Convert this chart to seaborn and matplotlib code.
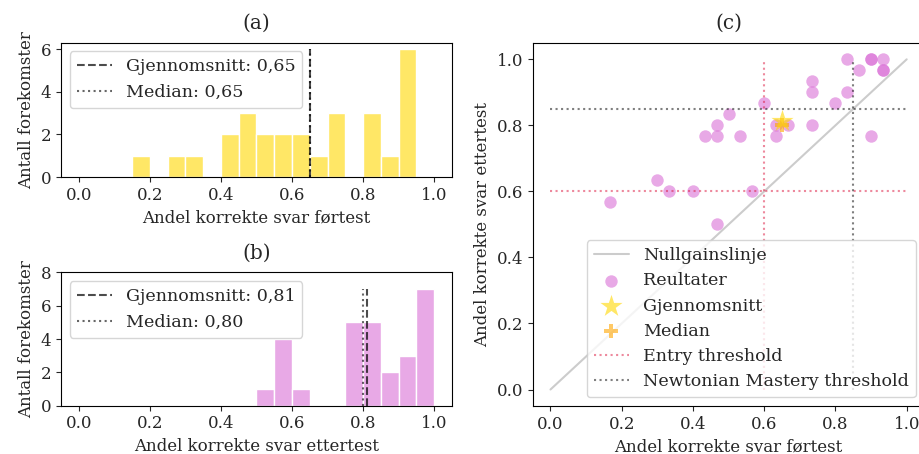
import numpy as np
import pandas as pd
import matplotlib
matplotlib.use("Agg")
import matplotlib.pyplot as plt
import seaborn as sns

# Scores per student (number of correct answers out of 30)
n_questions = 30
pre_correct = [25, 27, 27, 28, 26, 28, 28, 22, 22, 25, 24, 18, 15, 14,
               19, 20, 22, 13, 14, 16, 19, 27, 9, 10, 12, 17, 5, 14]
post_correct = [30, 30, 30, 30, 29, 29, 29, 28, 27, 27, 26, 26, 25, 24,
                24, 24, 24, 23, 23, 23, 23, 23, 19, 18, 18, 18, 17, 15]

entry_threshold = 0.60
mastery_threshold = 0.85
xticks = [0.0, 0.2, 0.4, 0.6, 0.8, 1.0]

sns.set_style("ticks")
plt.rcParams["font.family"] = ["DejaVu Serif"]
plt.rcParams["font.size"] = 12
plt.rcParams["legend.fontsize"] = 12.6
plt.rcParams["xtick.direction"] = "out"
plt.rcParams["ytick.direction"] = "out"
plt.rcParams["xtick.major.size"] = 3.5
plt.rcParams["ytick.major.size"] = 3.5
plt.rcParams["axes.edgecolor"] = "black"
plt.rcParams["axes.linewidth"] = 0.8

df = pd.DataFrame({
    "pre": np.array(pre_correct) / n_questions,
    "post": np.array(post_correct) / n_questions,
})
bins = np.arange(0, 1.05, 0.05)


def fmt(v):
    return f"{v:.2f}".replace(".", ",")


fig = plt.figure(figsize=(9.2, 4.54), dpi=100)
ax_a = fig.add_axes([0.0663, 0.6101, 0.425, 0.2958])
ax_b = fig.add_axes([0.0663, 0.1064, 0.425, 0.2938])
ax_c = fig.add_axes([0.579, 0.1057, 0.4259, 0.800])


def hist_panel(ax, values, color, xlabel, title, ymax=None):
    sns.histplot(x=values, bins=bins, color=color, alpha=0.6,
                 edgecolor="white", linewidth=1, ax=ax)
    counts, _ = np.histogram(values, bins=bins)
    top = counts.max()
    mean, median = values.mean(), values.median()
    ax.vlines(mean, 0, top, colors="black", alpha=0.7, linestyles="--",
              linewidth=1.5, label=f"Gjennomsnitt: {fmt(mean)}")
    ax.vlines(median, 0, top, colors="black", alpha=0.6, linestyles=":",
              linewidth=1.5, label=f"Median: {fmt(median)}")
    ax.set_xlim(-0.05, 1.05)
    if ymax is not None:
        ax.set_ylim(0, ymax)
    ax.set_xticks(xticks)
    ax.set_xlabel(xlabel)
    ax.set_ylabel("Antall forekomster")
    ax.set_title(title, pad=10)
    ax.legend(loc="upper left")


hist_panel(ax_a, df["pre"], "gold", "Andel korrekte svar førtest", "(a)")
hist_panel(ax_b, df["post"], "orchid", "Andel korrekte svar ettertest", "(b)", ymax=8)
ax_a.set_yticks([0, 2, 4, 6])
ax_b.set_yticks([0, 2, 4, 6, 8])

# Panel (c): pre vs post
ax = ax_c
ax.plot([0, 1], [0, 1], color="gray", alpha=0.4, linewidth=1.5, label="Nullgainslinje")
sns.scatterplot(data=df, x="pre", y="post", color="orchid", alpha=0.6, s=80,
                linewidth=0, label="Reultater", ax=ax)
sns.scatterplot(x=[df["pre"].mean()], y=[df["post"].mean()], marker="*", s=280,
                color="gold", alpha=0.6, linewidth=0, label="Gjennomsnitt",
                ax=ax, zorder=4)
sns.scatterplot(x=[df["pre"].median()], y=[df["post"].median()], marker="P", s=100,
                color="orange", alpha=0.6, linewidth=0, label="Median",
                ax=ax, zorder=3)
ax.hlines(entry_threshold, 0, 1, colors="crimson", alpha=0.5, linestyles=":",
          linewidth=1.5, label="Entry threshold")
ax.vlines(entry_threshold, 0, 1, colors="crimson", alpha=0.5, linestyles=":",
          linewidth=1.5)
ax.hlines(mastery_threshold, 0, 1, colors="black", alpha=0.5, linestyles=":",
          linewidth=1.5, label="Newtonian Mastery threshold")
ax.vlines(mastery_threshold, 0, 1, colors="black", alpha=0.5, linestyles=":",
          linewidth=1.5)
ax.set_xlim(-0.05, 1.05)
ax.set_ylim(-0.05, 1.05)
ax.set_xticks(xticks)
ax.set_yticks(xticks)
ax.set_xlabel("Andel korrekte svar førtest")
ax.set_ylabel("Andel korrekte svar ettertest")
ax.set_title("(c)", pad=10)
ax.legend(loc="lower right", labelspacing=0.47)

fig.savefig("out.png", dpi=100)
